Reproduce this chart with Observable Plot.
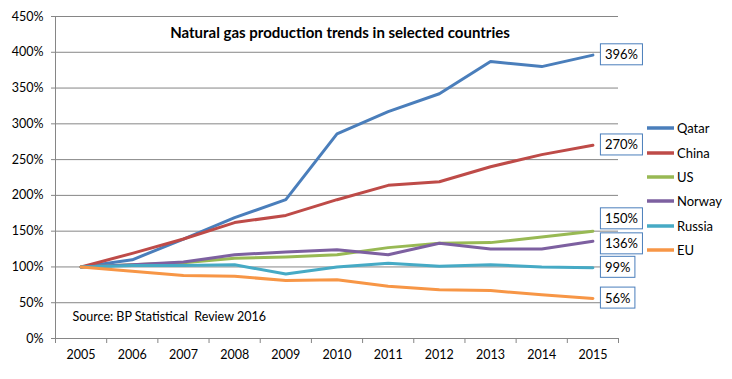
<!DOCTYPE html>
<html><head><meta charset="utf-8">
<script src="https://cdn.jsdelivr.net/npm/d3@7"></script>
<script src="https://cdn.jsdelivr.net/npm/@observablehq/plot@0.6"></script>
<style>
body{margin:0;background:#fff;}
#chart{position:relative;width:732px;height:379px;font-family:Lato,"Open Sans",sans-serif;}
#legend{position:absolute;left:647px;top:116px;font-size:13px;color:#000;}
#legend div{height:24.4px;display:flex;align-items:center;}
#legend svg{margin-right:3px;}
</style></head><body><div id="chart"></div>
<script>
const years = [2005, 2006, 2007, 2008, 2009, 2010, 2011, 2012, 2013, 2014, 2015];
const countries = ["Qatar", "China", "US", "Norway", "Russia", "EU"];
const qatar  = [100, 110, 139, 169, 194, 286, 317, 342, 387, 380, 396];
const china  = [100, 119, 139, 162, 172, 194, 214, 219, 240, 257, 270];
const us     = [100, 103, 106, 112, 114, 117, 127, 133, 134, 142, 150];
const norway = [100, 103, 107, 117, 121, 124, 117, 133, 125, 125, 136];
const russia = [100, 102, 102, 103, 90, 100, 105, 101, 103, 100, 99];
const eu     = [100, 94, 88, 87, 81, 82, 73, 68, 67, 61, 56];
const yTicks = [0, 50, 100, 150, 200, 250, 300, 350, 400, 450];
const title = "Natural gas production trends in selected countries";
const source = "Source: BP Statistical  Review 2016";

const colors = ["#4A7EBB", "#BE4B48", "#98B954", "#7D60A0", "#46AAC5", "#F79646"];
const series = [qatar, china, us, norway, russia, eu];
const rows = countries.flatMap((c, i) => years.map((y, j) => ({country: c, year: y, value: series[i][j]})));
const last = countries.map((c, i) => ({country: c, year: years[years.length - 1], value: series[i][years.length - 1]}));
const bounds = years.map(y => y - 0.5).concat([years[years.length - 1] + 0.5]);
const labelDy = {US: -12, Norway: 3};
const grey = "#868686";

const plot = Plot.plot({
  width: 732, height: 379,
  marginLeft: 55, marginRight: 114, marginTop: 16, marginBottom: 41,
  style: {fontFamily: "Lato, 'Open Sans', sans-serif", fontSize: "12.5px", color: "#000", background: "#fff"},
  x: {type: "linear", domain: [bounds[0], bounds[bounds.length - 1]], axis: null, label: null},
  y: {domain: [0, 450], axis: null, label: null},
  color: {domain: countries, range: colors},
  marks: [
    Plot.gridY(yTicks, {stroke: grey, strokeOpacity: 1, strokeWidth: 1}),
    Plot.ruleX([bounds[0]], {stroke: grey}),
    Plot.ruleY([0], {stroke: grey}),
    Plot.axisY(yTicks, {label: null, tickFormat: d => d + "%", tickSize: 4, tickPadding: 8, stroke: grey, fill: "#000", fontSize: 12.5}),
    Plot.axisX(bounds, {label: null, tickFormat: () => "", tickSize: 5, stroke: grey}),
    Plot.axisX(years, {label: null, tickFormat: d => String(d), tickSize: 0, tickPadding: 12, fill: "#000", fontSize: 12.5}),
    Plot.text([title], {frameAnchor: "top", dy: 11, dx: 3, fontWeight: "bold", fontSize: 15, fill: "#000"}),
    Plot.text([source], {frameAnchor: "bottom-left", dx: 17, dy: -18, textAnchor: "start", fontSize: 12.5, fill: "#000"}),
    Plot.line(rows, {x: "year", y: "value", z: "country", stroke: "country", strokeWidth: 3, strokeLinejoin: "round", strokeLinecap: "round"}),
    ...last.map(d => Plot.text([d], {x: "year", y: "value", text: v => v.value + "%", textAnchor: "start", dx: 12, dy: labelDy[d.country] || 0, fontSize: 13, fill: "#000"}))
  ]
});
const chart = document.getElementById("chart");
chart.appendChild(plot);

// boxes behind the end labels
d3.select(plot).selectAll("text").each(function() {
  const t = this.textContent;
  if (!/%$/.test(t)) return;
  const g = this.parentNode;
  if (!g || (g.getAttribute("aria-label") || "").indexOf("tick") >= 0) return;
  const b = this.getBBox();
  const tr = this.getAttribute("transform");
  const r = document.createElementNS("http://www.w3.org/2000/svg", "rect");
  r.setAttribute("x", b.x - 4.5);
  r.setAttribute("y", b.y - 2.5);
  r.setAttribute("width", b.width + 9);
  r.setAttribute("height", b.height + 5);
  r.setAttribute("fill", "#fff");
  r.setAttribute("stroke", "#4A7EBB");
  r.setAttribute("stroke-width", 1);
  if (tr) r.setAttribute("transform", tr);
  g.insertBefore(r, this);
});

// legend
const leg = document.createElement("div");
leg.id = "legend";
countries.forEach((c, i) => {
  const row = document.createElement("div");
  row.innerHTML = `<svg width="27" height="6"><line x1="0" x2="27" y1="3" y2="3" stroke="${colors[i]}" stroke-width="3.5"/></svg><span>${c}</span>`;
  leg.appendChild(row);
});
chart.appendChild(leg);
</script></body></html>
